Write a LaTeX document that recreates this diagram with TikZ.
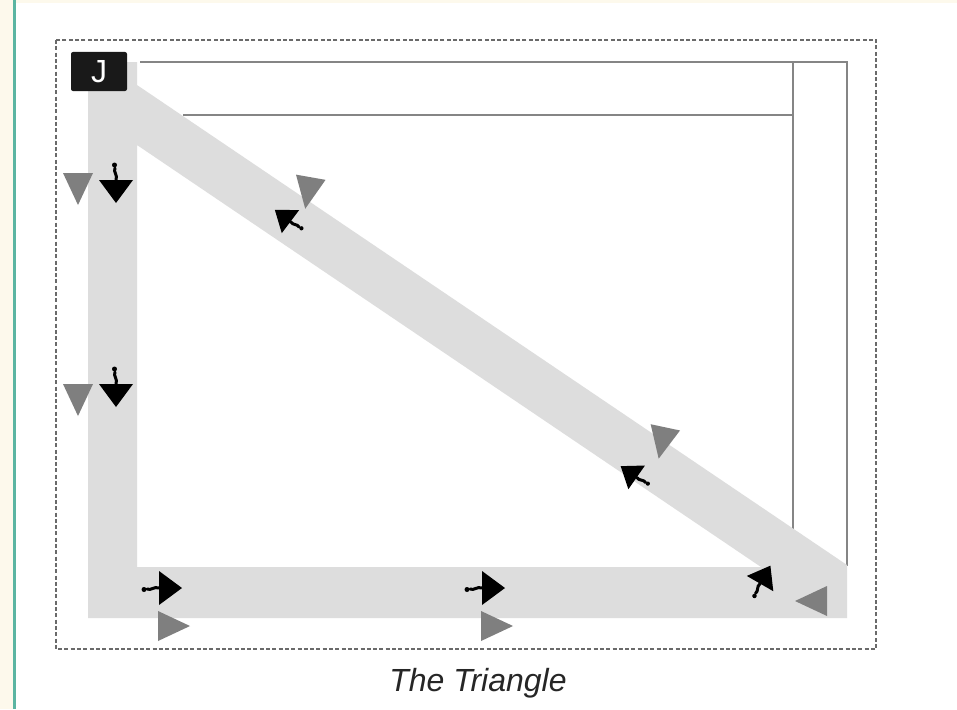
\documentclass[tikz,border=0pt]{standalone}
\usepackage{fontspec}
\setmainfont{Liberation Sans}
\definecolor{cream}{HTML}{FDF9EC}
\definecolor{tealline}{HTML}{5BB5A2}
\definecolor{bandgray}{HTML}{DDDDDD}
\definecolor{framegray}{HTML}{858585}
\definecolor{dashgray}{HTML}{6A6A6A}
\definecolor{markgray}{HTML}{7F7F7F}

\begin{document}
\begin{tikzpicture}[
    x=1pt, y=-1pt,
    frame/.style={draw=framegray, line width=2pt},
    band/.style={fill=bandgray},
    graytri/.pic={\fill[markgray] (-15,-16) -- (15,-16) -- (0,16) -- cycle;},
    walker/.pic={
        \fill[black] (-17,-11) -- (17,-11) -- (0,12) -- cycle;
        \draw[black, line width=3pt, line cap=round] (0,-11) .. controls (2,-16) and (-3,-19) .. (-1,-23);
        \fill[black] (-1.5,-26) circle (2.5);
    }
]
\useasboundingbox (0,0) rectangle (957,709);

% Fond
\fill[white] (0,0) rectangle (957,709);
\fill[cream] (0,0) rectangle (957,3);
\fill[cream] (0,0) rectangle (13,709);
\draw[tealline, line width=2.5pt] (14.5,0) -- (14.5,709);

% Cadre pointillé
\draw[dashgray, line width=2pt, dash pattern=on 4pt off 2.3pt] (56,40) rectangle (876,649);

% Scène
\draw[frame] (140,62) -- (847,62) -- (847,566);
\draw[frame] (183,115) -- (793,115);
\draw[frame] (793,62) -- (793,540);

% Parcours en triangle
\fill[band, even odd rule] (88,62) -- (137,62) -- (137,85) -- (847,565) -- (847,618) -- (88,618) -- cycle
    (137,145) -- (761,567) -- (137,567) -- cycle;

% Étiquette
\node[fill=black!90, text=white, rounded corners=2pt, minimum width=56pt, minimum height=39pt,
      inner sep=0pt, font=\fontsize{32}{34}\selectfont] (jlabel) at (99,71.5) {J};

% Côté gauche
\pic at (78,189) {graytri};
\pic at (116,191) {walker};
\pic at (78,400) {graytri};
\pic at (116,395) {walker};

% Diagonale
\pic[rotate=-10] at (308,193) {graytri};
\pic[rotate=-127, scale=0.85] at (283,216) {walker};
\pic[rotate=-12] at (662,443) {graytri};
\pic[rotate=-125, scale=0.85] at (629,472) {walker};

% Base
\pic[rotate=90] at (170,588) {walker};
\pic[rotate=90] at (174,626) {graytri};
\pic[rotate=90] at (493,588) {walker};
\pic[rotate=90] at (497,626) {graytri};
\pic[rotate=150, scale=0.9] at (765,575) {walker};
\pic[rotate=-90] at (811,601) {graytri};

% Titre
\node[font=\fontsize{32}{36}\selectfont\itshape, text=black!85] (caption) at (478,683) {The Triangle};

\end{tikzpicture}
\end{document}
